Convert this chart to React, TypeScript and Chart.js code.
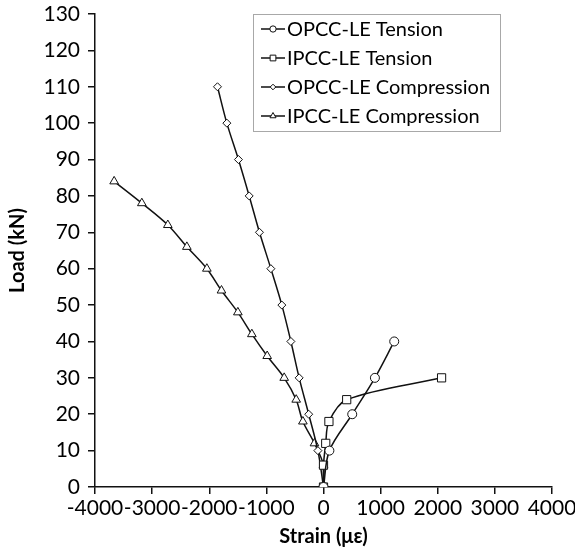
import React, { useEffect, useRef } from 'react';
import { Chart, registerables } from 'chart.js';

Chart.register(...registerables);

// Load–strain readings for the four specimens (strain in microstrain, load in kN)
const opccTensionStrain = [0, 103, 503, 900, 1238];
const opccTensionLoad = [0, 10, 20, 30, 40];

const ipccTensionStrain = [0, 0, 39, 95, 406, 2067];
const ipccTensionLoad = [0, 6, 12, 18, 24, 30];

const opccCompStrain = [0, -98, -259, -426, -571, -729, -921, -1121, -1301, -1489, -1692, -1856];
const opccCompLoad = [0, 10, 20, 30, 40, 50, 60, 70, 80, 90, 100, 110];

const ipccCompStrain = [0, 0, -158, -361, -478, -688, -986, -1254, -1499, -1786, -2042, -2392, -2725, -3180, -3665];
const ipccCompLoad = [0, 6, 12, 18, 24, 30, 36, 42, 48, 54, 60, 66, 72, 78, 84];

const seriesNames = ['OPCC-LE Tension', 'IPCC-LE Tension', 'OPCC-LE Compression', 'IPCC-LE Compression'];
const seriesMarkers = ['circle', 'rect', 'rectRot', 'triangle'];
const markerRadii = [4.5, 5.8, 4, 5];

const xTicks = [-4000, -3000, -2000, -1000, 0, 1000, 2000, 3000, 4000];
const yTicks = [0, 10, 20, 30, 40, 50, 60, 70, 80, 90, 100, 110, 120, 130];

const FONT = 'Lato, "Open Sans", sans-serif';
const INK = '#111';

function toPoints(xs: number[], ys: number[]) {
  return xs.map((x, i) => ({ x, y: ys[i] }));
}

function drawMarker(ctx: CanvasRenderingContext2D, style: string, x: number, y: number, r: number) {
  ctx.beginPath();
  if (style === 'circle') {
    ctx.arc(x, y, r, 0, Math.PI * 2);
  } else if (style === 'rect') {
    const s = r * Math.SQRT1_2;
    ctx.rect(x - s, y - s, 2 * s, 2 * s);
  } else if (style === 'rectRot') {
    ctx.moveTo(x, y - r);
    ctx.lineTo(x + r, y);
    ctx.lineTo(x, y + r);
    ctx.lineTo(x - r, y);
    ctx.closePath();
  } else {
    for (let k = 0; k < 3; k++) {
      const a = -Math.PI / 2 + (k * 2 * Math.PI) / 3;
      const px = x + Math.cos(a) * r;
      const py = y + Math.sin(a) * r;
      if (k === 0) ctx.moveTo(px, py);
      else ctx.lineTo(px, py);
    }
    ctx.closePath();
  }
  ctx.fill();
  ctx.stroke();
}

// Boxed legend placed inside the plot area, upper right
const boxLegend = {
  id: 'boxLegend',
  afterDraw(chart: any) {
    const ctx: CanvasRenderingContext2D = chart.ctx;
    const x0 = 253;
    const y0 = 14;
    const w = 247;
    const h = 117;
    ctx.save();
    ctx.fillStyle = '#fff';
    ctx.fillRect(x0, y0, w, h);
    ctx.strokeStyle = '#a8a8a8';
    ctx.lineWidth = 1;
    ctx.strokeRect(x0 + 0.5, y0 + 0.5, w, h);
    chart.data.datasets.forEach((ds: any, i: number) => {
      const cy = y0 + 15 + i * 29;
      ctx.strokeStyle = INK;
      ctx.lineWidth = 1.5;
      ctx.beginPath();
      ctx.moveTo(261, cy);
      ctx.lineTo(285, cy);
      ctx.stroke();
      ctx.fillStyle = '#fff';
      ctx.lineWidth = 1;
      drawMarker(ctx, ds.pointStyle, 273, cy, ds.pointRadius * 0.7);
      ctx.fillStyle = '#000';
      ctx.font = `20px ${FONT}`;
      ctx.textAlign = 'left';
      ctx.textBaseline = 'middle';
      ctx.fillText(ds.label, 287, cy + 1);
    });
    ctx.restore();
  },
};

export default function App() {
  const canvasRef = useRef<HTMLCanvasElement | null>(null);

  useEffect(() => {
    const canvas = canvasRef.current;
    if (!canvas) return;

    const series = [
      toPoints(opccTensionStrain, opccTensionLoad),
      toPoints(ipccTensionStrain, ipccTensionLoad),
      toPoints(opccCompStrain, opccCompLoad),
      toPoints(ipccCompStrain, ipccCompLoad),
    ];

    const datasets = series.map((data, i) => ({
      label: seriesNames[i],
      data,
      showLine: true,
      borderColor: INK,
      borderWidth: 1.5,
      backgroundColor: '#fff',
      pointStyle: seriesMarkers[i],
      pointRadius: markerRadii[i],
      pointBorderWidth: 1,
      pointBorderColor: INK,
      pointBackgroundColor: '#fff',
      tension: 0.33,
    }));

    const chart = new Chart(canvas, {
      type: 'scatter',
      data: { datasets },
      options: {
        responsive: false,
        animation: false,
        layout: { padding: { left: 0, right: 23, top: 14, bottom: 0 } },
        plugins: {
          legend: { display: false },
          tooltip: { enabled: false },
        },
        scales: {
          x: {
            type: 'linear',
            min: -4000,
            max: 4000,
            afterBuildTicks: (s: any) => {
              s.ticks = xTicks.map((v) => ({ value: v }));
            },
            afterFit: (s: any) => {
              s.height = 68;
              s.paddingLeft = 0;
              s.paddingRight = 0;
            },
            ticks: {
              autoSkip: false,
              maxRotation: 0,
              minRotation: 0,
              color: '#000',
              padding: 2,
              font: { family: FONT, size: 21 },
              callback: (v: any) => String(v),
            },
            grid: {
              drawOnChartArea: false,
              drawTicks: true,
              tickLength: 7,
              color: INK,
              lineWidth: 1.5,
            },
            border: { color: INK, width: 1.5 },
            title: {
              display: true,
              text: 'Strain (με)',
              color: '#000',
              font: { family: FONT, size: 20, weight: 'bold' },
              padding: { top: 0, bottom: 6 },
            },
          },
          y: {
            type: 'linear',
            min: 0,
            max: 130,
            afterBuildTicks: (s: any) => {
              s.ticks = yTicks.map((v) => ({ value: v }));
            },
            afterFit: (s: any) => {
              s.width = 95;
              s.paddingTop = 0;
              s.paddingBottom = 0;
            },
            ticks: {
              autoSkip: false,
              color: '#000',
              padding: 8,
              font: { family: FONT, size: 21 },
              callback: (v: any) => String(v),
            },
            grid: {
              drawOnChartArea: false,
              drawTicks: true,
              tickLength: 7,
              color: INK,
              lineWidth: 1.5,
            },
            border: { color: INK, width: 1.5 },
            title: {
              display: true,
              text: 'Load (kN)',
              color: '#000',
              font: { family: FONT, size: 20, weight: 'bold' },
              padding: { top: 6, bottom: 0 },
            },
          },
        },
      } as any,
      plugins: [boxLegend],
    });

    return () => chart.destroy();
  }, []);

  return (
    <div style={{ position: 'absolute', left: 0, top: 0, width: 575, height: 555, background: '#fff' }}>
      <canvas ref={canvasRef} width={575} height={555} style={{ display: 'block' }} />
    </div>
  );
}
